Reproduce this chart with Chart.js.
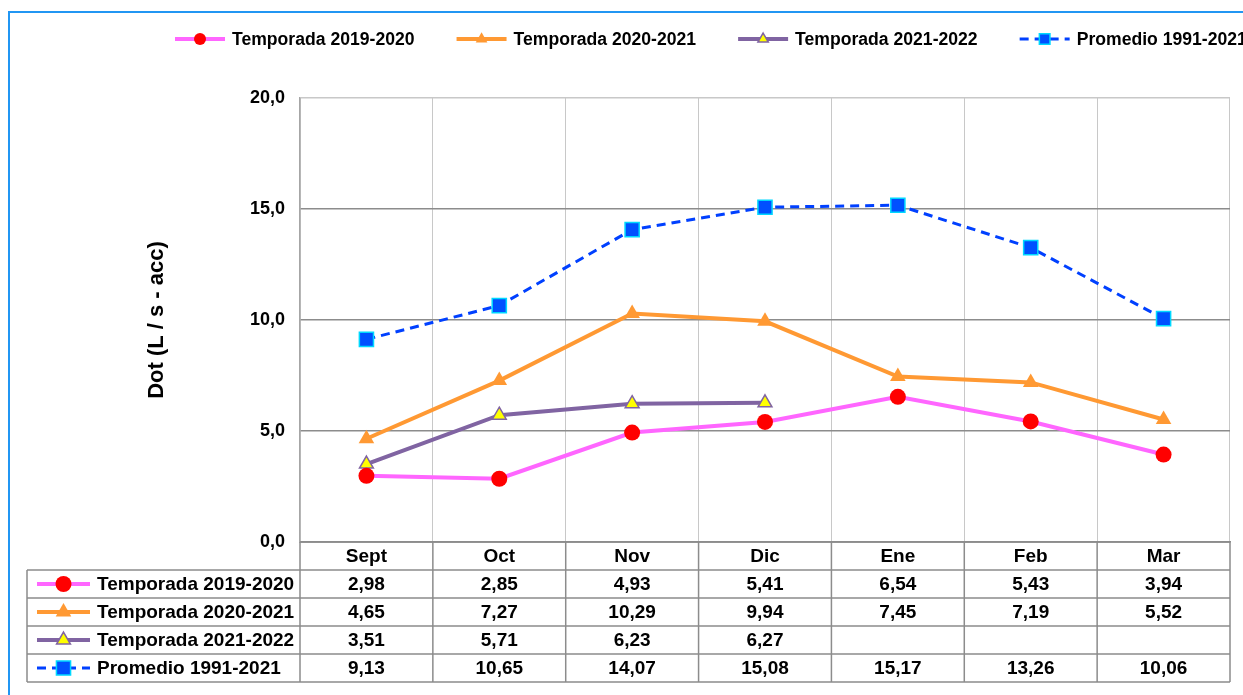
<!DOCTYPE html>
<html>
<head>
<meta charset="utf-8">
<script src="https://cdn.jsdelivr.net/npm/chart.js@4/dist/chart.umd.min.js"></script>
<style>
  html, body { margin: 0; padding: 0; background: #fff; }
  #wrap { width: 1243px; height: 695px; }
</style>
</head>
<body>
<div id="wrap"><canvas id="chart" width="1243" height="695"></canvas></div>
<script>
const meses = ['Sept', 'Oct', 'Nov', 'Dic', 'Ene', 'Feb', 'Mar'];
const t1920 = [2.98, 2.85, 4.93, 5.41, 6.54, 5.43, 3.94];
const t2021 = [4.65, 7.27, 10.29, 9.94, 7.45, 7.19, 5.52];
const t2122 = [3.51, 5.71, 6.23, 6.27, null, null, null];
const prom = [9.13, 10.65, 14.07, 15.08, 15.17, 13.26, 10.06];
const nombres = ['Temporada 2019-2020', 'Temporada 2020-2021', 'Temporada 2021-2022', 'Promedio 1991-2021'];

const FONT = "'Liberation Sans', Arial, sans-serif";
const gridDark = '#8c8c8c';
const gridLight = '#c8c8c8';

function coma(v, d) {
  return v.toFixed(d).replace('.', ',');
}

// marker drawn the same way as chart.js point styles
function marker(ctx, ds, x, y, k) {
  const r = ds.pointRadius * k;
  ctx.save();
  ctx.fillStyle = ds.pointBackgroundColor;
  ctx.strokeStyle = ds.pointBorderColor;
  ctx.lineWidth = ds.pointBorderWidth;
  ctx.setLineDash([]);
  ctx.beginPath();
  if (ds.pointStyle === 'circle') {
    ctx.arc(x, y, r, 0, Math.PI * 2);
  } else if (ds.pointStyle === 'triangle') {
    let a = 0;
    ctx.moveTo(x + Math.sin(a) * r, y - Math.cos(a) * r);
    a += Math.PI * 2 / 3;
    ctx.lineTo(x + Math.sin(a) * r, y - Math.cos(a) * r);
    a += Math.PI * 2 / 3;
    ctx.lineTo(x + Math.sin(a) * r, y - Math.cos(a) * r);
    ctx.closePath();
  } else {
    const s = r * Math.SQRT1_2;
    ctx.rect(x - s, y - s, 2 * s, 2 * s);
  }
  ctx.fill();
  if (ds.pointBorderWidth > 0) ctx.stroke();
  ctx.restore();
}

function sample(ctx, ds, x1, x2, y, k) {
  ctx.save();
  ctx.strokeStyle = ds.borderColor;
  ctx.lineWidth = ds.borderWidth;
  ctx.setLineDash(ds.borderDash || []);
  ctx.beginPath();
  ctx.moveTo(x1, y);
  ctx.lineTo(x2, y);
  ctx.stroke();
  ctx.restore();
  marker(ctx, ds, (x1 + x2) / 2, y, k);
}

const tablaPlugin = {
  id: 'tabla',
  beforeDraw(chart) {
    const ctx = chart.ctx;
    ctx.save();
    ctx.fillStyle = '#fff';
    ctx.fillRect(0, 0, chart.width, chart.height);
    ctx.strokeStyle = '#2196F3';
    ctx.lineWidth = 2;
    ctx.strokeRect(9, 12, chart.width + 20, chart.height + 20);
    ctx.restore();
  },
  afterDraw(chart) {
    const ctx = chart.ctx;
    const area = chart.chartArea;
    const xs = chart.scales.x;
    const dsets = chart.data.datasets;
    const series = [t1920, t2021, t2122, prom];
    const cw = (area.right - area.left) / meses.length;
    const rowH = 28;
    const top = area.bottom;
    const labLeft = 27;

    ctx.save();
    // legend
    ctx.font = 'bold 17.6px ' + FONT;
    ctx.textBaseline = 'middle';
    ctx.fillStyle = '#000';
    let lx = 175;
    dsets.forEach((ds, i) => {
      sample(ctx, ds, lx, lx + 50, 39, 0.75);
      ctx.fillText(nombres[i], lx + 57, 40);
      lx += 57 + ctx.measureText(nombres[i]).width + 42;
    });

    // table grid
    ctx.strokeStyle = gridDark;
    ctx.lineWidth = 1.5;
    ctx.beginPath();
    for (let r = 0; r <= 5; r++) {
      const y = top + r * rowH;
      ctx.moveTo(r === 0 ? area.left : labLeft, y);
      ctx.lineTo(area.right, y);
    }
    ctx.moveTo(labLeft, top + rowH);
    ctx.lineTo(labLeft, top + 5 * rowH);
    for (let c = 0; c <= meses.length; c++) {
      const x = area.left + c * cw;
      ctx.moveTo(x, top);
      ctx.lineTo(x, top + 5 * rowH);
    }
    ctx.stroke();

    ctx.font = 'bold 19px ' + FONT;
    ctx.textAlign = 'center';
    meses.forEach((m, i) => {
      ctx.fillText(m, xs.getPixelForValue(i), top + rowH / 2 + 1);
    });
    series.forEach((vals, r) => {
      const y = top + (r + 1.5) * rowH + 1;
      vals.forEach((v, i) => {
        if (v !== null) ctx.fillText(coma(v, 2), xs.getPixelForValue(i), y);
      });
    });
    ctx.textAlign = 'left';
    dsets.forEach((ds, r) => {
      const y = top + (r + 1.5) * rowH;
      sample(ctx, ds, 37, 90, y, 1);
      ctx.fillText(nombres[r], 97, y + 1);
    });
    ctx.restore();
  }
};

const chart = new Chart(document.getElementById('chart'), {
  type: 'line',
  data: {
    labels: meses,
    datasets: [
      {
        label: nombres[0], data: t1920,
        borderColor: '#FF66FF', borderWidth: 4,
        pointStyle: 'circle', pointRadius: 8,
        pointBackgroundColor: '#FF0000', pointBorderColor: '#FF0000', pointBorderWidth: 0
      },
      {
        label: nombres[1], data: t2021,
        borderColor: '#FF9933', borderWidth: 4,
        pointStyle: 'triangle', pointRadius: 9,
        pointBackgroundColor: '#FF9933', pointBorderColor: '#FF9933', pointBorderWidth: 0
      },
      {
        label: nombres[2], data: t2122,
        borderColor: '#8064A2', borderWidth: 4,
        pointStyle: 'triangle', pointRadius: 8,
        pointBackgroundColor: '#FFFF00', pointBorderColor: '#8064A2', pointBorderWidth: 1.5
      },
      {
        label: nombres[3], data: prom,
        borderColor: '#0040FF', borderWidth: 3, borderDash: [9, 6],
        pointStyle: 'rect', pointRadius: 10,
        pointBackgroundColor: '#0050FF', pointBorderColor: '#00D8FF', pointBorderWidth: 1.5
      }
    ]
  },
  options: {
    responsive: false,
    animation: false,
    layout: { padding: { left: 0, top: 98, right: 13, bottom: 153 } },
    plugins: {
      legend: { display: false },
      tooltip: { enabled: false }
    },
    scales: {
      x: {
        offset: true,
        grid: { offset: true, color: gridLight, lineWidth: 1, drawTicks: false },
        border: { color: gridDark, width: 1.5 },
        ticks: { display: false },
        afterFit(s) { s.height = 0; }
      },
      y: {
        min: 0, max: 20,
        ticks: {
          stepSize: 5, padding: 15, color: '#000',
          font: { family: FONT, size: 18, weight: 'bold' },
          callback: (v) => coma(v, 1)
        },
        grid: {
          drawTicks: false, lineWidth: 1.5,
          color: (c) => (c.tick && c.tick.value === 20 ? gridLight : gridDark)
        },
        border: { color: '#a6a6a6', width: 1.5 },
        title: {
          display: true, text: 'Dot (L / s - acc)', color: '#000',
          font: { family: FONT, size: 22, weight: 'bold' },
          padding: { top: 144, bottom: 0 }
        },
        afterFit(s) { s.width = 300; }
      }
    }
  },
  plugins: [tablaPlugin]
});
</script>
</body>
</html>
